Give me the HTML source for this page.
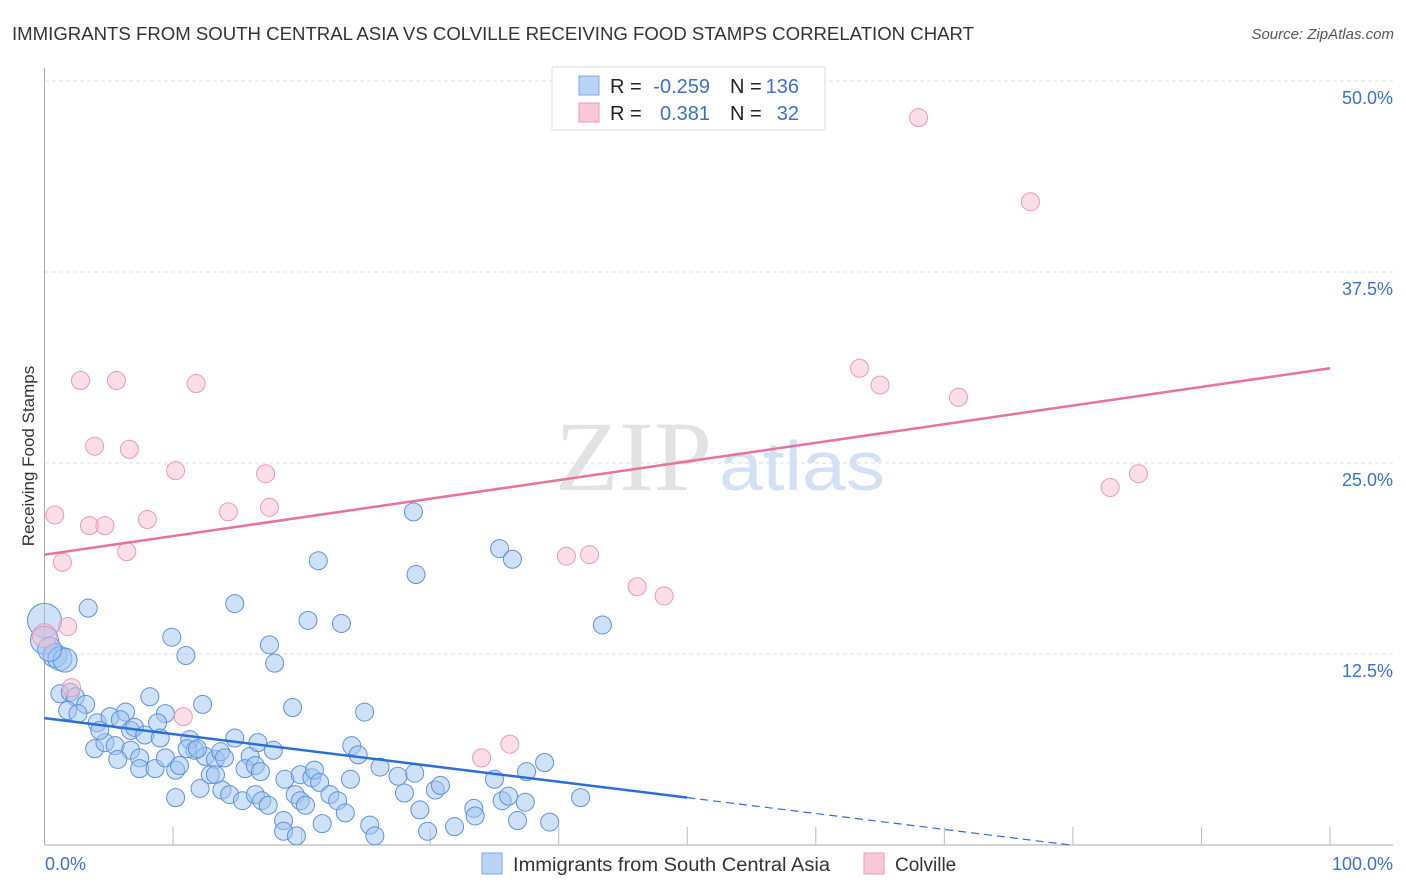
<!DOCTYPE html>
<html><head><meta charset="utf-8"><style>
body{margin:0;background:#fff;width:1406px;height:892px;overflow:hidden;font-family:"Liberation Sans",sans-serif}
svg{position:absolute;left:0;top:0}
</style></head><body>
<svg id="chart" width="1406" height="892">
<text x="12" y="40" font-size="18" fill="#333" textLength="962" lengthAdjust="spacingAndGlyphs">IMMIGRANTS FROM SOUTH CENTRAL ASIA VS COLVILLE RECEIVING FOOD STAMPS CORRELATION CHART</text>
<text x="1394" y="39" font-size="15" fill="#555" font-style="italic" text-anchor="end">Source: ZipAtlas.com</text>
<text x="712" y="490" font-size="100" font-family="Liberation Serif,serif" fill="#e2e2e2" text-anchor="end" textLength="157" lengthAdjust="spacingAndGlyphs">ZIP</text>
<text x="719" y="490" font-size="70" fill="#d3e1f5" textLength="166" lengthAdjust="spacingAndGlyphs">atlas</text>
<text transform="translate(34,456) rotate(-90)" font-size="17" fill="#333" text-anchor="middle">Receiving Food Stamps</text>
<g id="grid"></g><g id="marks"></g>
<g>
<rect x="552" y="67" width="273" height="63" fill="#fff" stroke="#ddd"/>
<rect x="579" y="76" width="20" height="19" fill="#b8d3f5" stroke="#7fa9e6"/>
<rect x="579" y="103" width="20" height="19" fill="#f9c8d6" stroke="#ee9ab2"/>
<g font-size="20" fill="#222">
<text x="610" y="93">R =</text><text x="710" y="93" text-anchor="end" fill="#3a70d0">-0.259</text>
<text x="730" y="93">N =</text><text x="799" y="93" text-anchor="end" fill="#3a70d0">136</text>
<text x="610" y="120">R =</text><text x="710" y="120" text-anchor="end" fill="#3a70d0">0.381</text>
<text x="730" y="120">N =</text><text x="799" y="120" text-anchor="end" fill="#3a70d0">32</text>
</g>
</g>
<g>
<rect x="482" y="853" width="20" height="21" fill="#b8d3f5" stroke="#7fa9e6"/>
<text x="513" y="871" font-size="19" fill="#333" textLength="317" lengthAdjust="spacingAndGlyphs">Immigrants from South Central Asia</text>
<rect x="864" y="853" width="20" height="21" fill="#f9c8d6" stroke="#ee9ab2"/>
<text x="895" y="871" font-size="19" fill="#333">Colville</text>
</g>
</svg>
<script>
const yTicks=[12.5,25,37.5,50];
const yTickLabels=["12.5%","25.0%","37.5%","50.0%"];
const xTickLabels=["0.0%","100.0%"];
const blueX=[0,0,0.8,1.2,1.6,0.4,3.4,9.9,11.0,14.8,17.5,17.9,20.5,23.1,21.3,28.7,28.9,35.4,36.4,43.4,1.2,2.0,2.4,1.8,3.2,2.6,4.1,5.1,6.3,5.9,8.2,9.4,8.8,12.3,19.3,24.9,3.9,4.7,5.5,4.3,6.7,7.0,7.8,9.0,6.7,5.7,7.4,7.4,8.6,9.4,10.2,10.5,11.3,11.7,12.5,13.3,13.7,14.0,14.8,16.0,16.6,17.8,15.6,16.4,16.8,11.1,11.9,10.2,12.1,12.9,13.3,13.8,14.4,15.4,16.4,16.9,17.4,18.7,19.5,19.9,20.3,19.9,20.8,21.0,21.4,22.2,22.8,23.8,23.9,24.4,26.1,27.5,28.0,28.8,29.2,30.4,30.8,33.4,33.5,35.0,35.6,36.1,37.5,37.4,38.9,41.7,36.8,39.3,25.3,23.4,21.6,18.6,18.6,19.6,25.7,29.8,31.9];
const blueY=[14.7,13.4,12.4,12.2,12.1,12.8,15.5,13.6,12.4,15.8,13.1,11.9,14.7,14.5,18.6,21.8,17.7,19.4,18.7,14.4,9.9,10.0,9.7,8.8,9.2,8.6,8.0,8.4,8.7,8.2,9.7,8.6,8.0,9.2,9.0,8.7,6.3,6.7,6.5,7.5,7.5,7.7,7.2,7.0,6.2,5.6,5.7,5.0,5.0,5.7,4.9,5.2,6.9,6.2,5.8,5.6,6.1,5.7,7.0,5.8,6.7,6.2,5.0,5.2,4.8,6.3,6.3,3.1,3.7,4.6,4.6,3.6,3.3,2.9,3.3,2.9,2.6,4.3,3.3,2.9,2.6,4.6,4.4,4.9,4.1,3.3,2.9,4.3,6.5,5.9,5.1,4.5,3.4,4.7,2.3,3.6,3.9,2.4,1.9,4.3,2.9,3.2,4.8,2.8,5.4,3.1,1.6,1.5,1.3,2.1,1.4,1.6,0.9,0.6,0.6,0.9,1.2];
const pinkX=[0.8,1.4,1.8,2.1,2.8,3.5,3.9,4.7,5.6,6.4,6.6,8.0,10.2,10.8,11.8,14.3,17.2,17.5,34.0,36.2,40.6,42.4,46.1,48.2,63.4,65.0,71.1,68.0,76.7,82.9,85.1,0];
const pinkY=[21.6,18.5,14.3,10.3,30.4,20.9,26.1,20.9,30.4,19.2,25.9,21.3,24.5,8.4,30.2,21.8,24.3,22.1,5.7,6.6,18.9,19.0,16.9,16.3,31.2,30.1,29.3,47.6,42.1,23.4,24.3,13.7];
const blueTrend=[8.3,-2.1];
const pinkTrend=[19.0,31.2];

const NS="http://www.w3.org/2000/svg";
const X=v=>44.5+v*12.855;
const Y=v=>845-v*15.28;
function mk(t,a,p){const e=document.createElementNS(NS,t);for(const k in a)e.setAttribute(k,a[k]);p.appendChild(e);return e;}
const grid=document.getElementById('grid'),marks=document.getElementById('marks');
yTicks.forEach((t,i)=>{
 const l=mk('line',{x1:45,x2:1393,y1:Y(t),y2:Y(t),stroke:'#ddd','stroke-dasharray':'4,3'},grid);
 
 
 const tx=mk('text',{x:1393,y:Y(t)+23,'font-size':18,fill:'#3a70d0','text-anchor':'end'},grid);
 tx.textContent=yTickLabels[i];
 
 
});
const ax=mk('line',{x1:44.5,x2:44.5,y1:68,y2:845,stroke:'#aaa'},grid);


const bx=mk('line',{x1:44.5,x2:1393,y1:845,y2:845,stroke:'#aaa'},grid);


for(let i=1;i<=10;i++){
 const t=mk('line',{x1:X(i*10),x2:X(i*10),y1:827,y2:845,stroke:'#bbb'},grid);
 
 
}
[[0,'start',45],[100,'end',1393]].forEach((d,i)=>{
 const tx=mk('text',{x:d[2],y:870,'font-size':18,fill:'#3a70d0','text-anchor':d[1]},grid);
 tx.textContent=xTickLabels[i];
 
 
});
blueX.forEach((x,i)=>{
 const r=i==0?17:i==1?14:i<6?12:9;
 const c=mk('circle',{cx:X(x),cy:Y(blueY[i]),r:r,fill:'rgba(160,196,240,0.5)',stroke:'#5b93e0','stroke-width':1},marks);
 
 
});
pinkX.forEach((x,i)=>{
 const c=mk('circle',{cx:X(x),cy:Y(pinkY[i]),r:i==31?12:9,fill:'rgba(248,190,208,0.5)',stroke:'#ee9ab2','stroke-width':1},marks);
 
 
});
const by=x=>blueTrend[0]+(blueTrend[1]-blueTrend[0])*x/100;
const b1=mk('line',{x1:X(0),y1:Y(by(0)),x2:X(50),y2:Y(by(50)),stroke:'#2a6fd6','stroke-width':2.5},marks);


const xz=-blueTrend[0]*100/(blueTrend[1]-blueTrend[0]);
const b2=mk('line',{x1:X(50),y1:Y(by(50)),x2:X(Math.min(100,xz)),y2:Y(by(Math.min(100,xz))),stroke:'#2a6fd6','stroke-width':1.2,'stroke-dasharray':'8,5'},marks);


const p1=mk('line',{x1:X(0),y1:Y(pinkTrend[0]),x2:X(100),y2:Y(pinkTrend[1]),stroke:'#e8729a','stroke-width':2.5},marks);


</script>
</body></html>
